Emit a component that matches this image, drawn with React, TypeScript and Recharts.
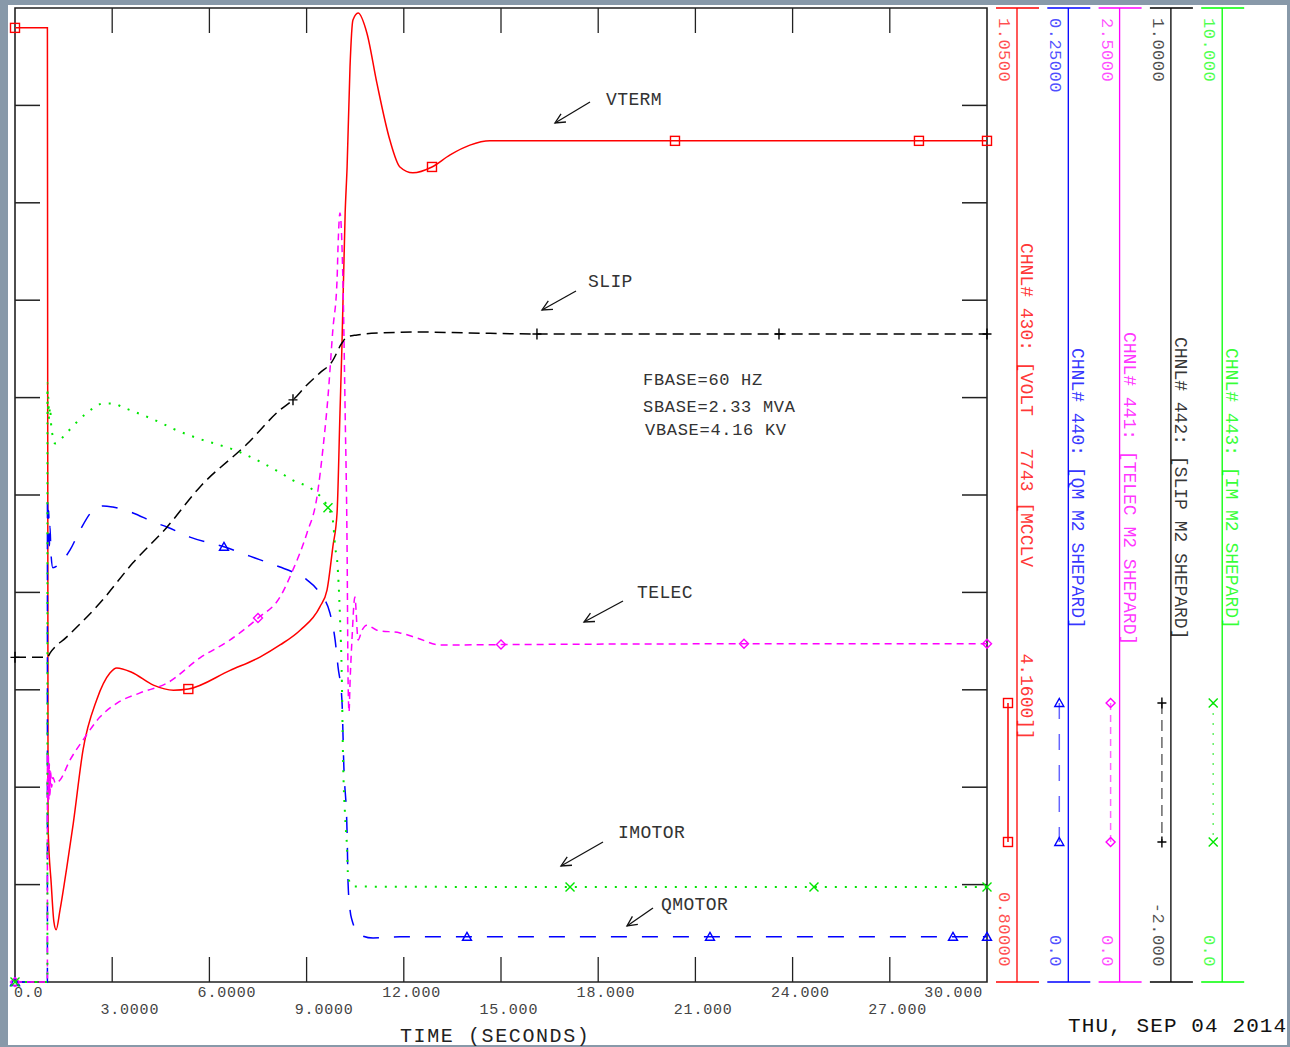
import React from "react";
import { LineChart, Line, XAxis, YAxis, ReferenceLine, ReferenceArea } from "recharts";

// time axis
const TIME_TICKS = [0, 3, 6, 9, 12, 15, 18, 21, 24, 27, 30];
const TIME_LABELS = ["0.0", "3.0000", "6.0000", "9.0000", "12.000", "15.000", "18.000", "21.000", "24.000", "27.000", "30.000"];

// right-hand channel scales
const CHANNEL_TOP = ["1.0500", "0.25000", "2.5000", "1.0000", "10.000"];
const CHANNEL_BOTTOM = ["0.80000", "0.0", "0.0", "-2.000", "0.0"];
const CHANNEL_TITLE = [
  "CHNL# 430: [VOLT   7743 [MCCLV        4.1600]]",
  "CHNL# 440: [QM M2 SHEPARD]",
  "CHNL# 441: [TELEC M2 SHEPARD]",
  "CHNL# 442: [SLIP M2 SHEPARD]",
  "CHNL# 443: [IM M2 SHEPARD]",
];

// CHNL 430 - VTERM (pu)
const VTERM_T = [0, 1.0, 1.02, 1.12, 1.2, 1.27, 1.39, 1.6, 1.8, 2.1, 2.52, 2.93, 3.14, 3.6, 4.27, 4.89, 5.35, 6.64, 7.56, 8.18, 8.8, 9.41, 9.63, 9.81, 9.94, 10.03, 10.09, 10.19, 10.25, 10.34, 10.43, 10.59, 10.86, 11.17, 11.57, 11.88, 12.28, 12.87, 13.43, 14.04, 14.66, 20.37, 27.9, 30];
const VTERM_V = [1.0449, 1.0449, 0.84, 0.825, 0.8155, 0.8134, 0.8185, 0.8295, 0.8408, 0.8596, 0.8724, 0.8793, 0.8806, 0.8795, 0.8762, 0.8749, 0.8752, 0.880, 0.8834, 0.8865, 0.8903, 0.8963, 0.9006, 0.9117, 0.9204, 0.946, 0.963, 0.9974, 1.0092, 1.0349, 1.0469, 1.0487, 1.0436, 1.0307, 1.0161, 1.0092, 1.0077, 1.0092, 1.0123, 1.0148, 1.0159, 1.0159, 1.0159, 1.0159];
const VTERM_MARKS = [0, 5.35, 12.87, 20.37, 27.9, 30];

// CHNL 440 - QMOTOR
const QM_T = [0, 1.0, 1.001, 1.02, 1.04, 1.06, 1.08, 1.11, 1.17, 1.39, 1.7, 2.01, 2.41, 2.72, 3.02, 3.64, 4.26, 4.69, 5.4, 6.45, 7.25, 8.18, 8.58, 9.01, 9.41, 9.72, 9.88, 9.97, 10.09, 10.15, 10.25, 10.28, 10.34, 10.4, 10.65, 11.05, 11.88, 13.95, 21.45, 28.95, 30];
const QM_V = [0, 0, 0.125, 0.113, 0.121, 0.112, 0.117, 0.110, 0.1063, 0.1075, 0.1109, 0.116, 0.1211, 0.1222, 0.1219, 0.1204, 0.1181, 0.1168, 0.1142, 0.1117, 0.1093, 0.1065, 0.1052, 0.1032, 0.0998, 0.0947, 0.0878, 0.0809, 0.0724, 0.0552, 0.0382, 0.0254, 0.0185, 0.0159, 0.0121, 0.0113, 0.0116, 0.0116, 0.0116, 0.0116, 0.0116];
const QM_MARKS = [0, 6.45, 13.95, 21.45, 28.95, 30];

// CHNL 441 - TELEC
const TE_T = [0, 1.0, 1.001, 1.015, 1.03, 1.045, 1.06, 1.08, 1.1, 1.13, 1.17, 1.25, 1.39, 1.7, 2.1, 2.62, 3.15, 3.86, 4.69, 5.71, 6.64, 7.5, 8.18, 8.58, 9.01, 9.32, 9.51, 9.66, 9.81, 9.94, 9.97, 10.03, 10.12, 10.19, 10.25, 10.28, 10.31, 10.34, 10.4, 10.49, 10.59, 10.71, 10.86, 11.17, 11.88, 12.41, 13.12, 15, 22.5, 30];
const TE_V = [0, 0, 0.59, 0.46, 0.58, 0.47, 0.56, 0.48, 0.54, 0.5, 0.525, 0.51, 0.5185, 0.57, 0.621, 0.68, 0.716, 0.742, 0.767, 0.832, 0.878, 0.934, 0.988, 1.058, 1.152, 1.245, 1.373, 1.502, 1.674, 1.802, 1.887, 1.974, 1.802, 1.46, 1.109, 0.775, 0.693, 0.767, 0.878, 0.988, 0.878, 0.903, 0.916, 0.903, 0.896, 0.883, 0.865, 0.866, 0.868, 0.868];
const TE_MARKS = [0, 7.5, 15, 22.5, 30];

// CHNL 442 - SLIP
const SLIP_T = [0, 1.0, 1.08, 1.6, 2.62, 3.64, 4.69, 5.71, 7.16, 8.18, 8.58, 9.01, 9.41, 9.78, 10.09, 10.25, 10.56, 11.27, 12.5, 14.04, 16.11, 23.58, 30];
const SLIP_V = [-1.0, -1.0, -0.987, -0.937, -0.833, -0.709, -0.599, -0.475, -0.343, -0.238, -0.207, -0.161, -0.124, -0.09, -0.032, -0.013, -0.007, -0.001, 0.002, -0.001, -0.004, -0.004, -0.004];
const SLIP_MARKS = [0, 8.58, 16.11, 23.58, 30];

// CHNL 443 - IMOTOR
const IM_T = [0, 1.0, 1.001, 1.015, 1.03, 1.05, 1.08, 1.12, 1.17, 1.23, 1.6, 1.91, 2.41, 2.72, 3.02, 3.33, 3.64, 3.95, 4.57, 4.88, 5.49, 6.94, 8.18, 8.58, 9.2, 9.66, 9.81, 9.88, 9.95, 10.03, 10.09, 10.12, 10.19, 10.25, 10.28, 10.34, 10.43, 17.13, 24.66, 30];
const IM_V = [0, 0, 6.15, 5.82, 6.0, 5.78, 5.9, 5.7, 5.6, 5.53, 5.64, 5.75, 5.89, 5.94, 5.94, 5.9, 5.86, 5.82, 5.73, 5.68, 5.6, 5.44, 5.23, 5.15, 5.05, 4.87, 4.74, 4.47, 4.3, 3.75, 3.07, 2.38, 1.69, 1.36, 1.08, 1.02, 0.98, 0.975, 0.975, 0.975];
const IM_MARKS = [0, 9.66, 17.13, 24.66, 30];

const MONO = "'Liberation Mono', 'DejaVu Sans Mono', monospace";

const toRows = (t: number[], v: number[]) => t.map((x, i) => ({ t: x, y: v[i] }));

const SERIES = [
  { id: "v", domain: [0.8, 1.05], data: toRows(VTERM_T, VTERM_V), marks: VTERM_MARKS, color: "#ff0000", dash: undefined as string | undefined, kind: "square" },
  { id: "q", domain: [0, 0.25], data: toRows(QM_T, QM_V), marks: QM_MARKS, color: "#0000ff", dash: "16 15", kind: "triangle" },
  { id: "te", domain: [0, 2.5], data: toRows(TE_T, TE_V), marks: TE_MARKS, color: "#ff00ff", dash: "7 5", kind: "diamond" },
  { id: "s", domain: [-2, 1], data: toRows(SLIP_T, SLIP_V), marks: SLIP_MARKS, color: "#000000", dash: "11 6", kind: "plus" },
  { id: "i", domain: [0, 10], data: toRows(IM_T, IM_V), marks: IM_MARKS, color: "#00e600", dash: "2 8", kind: "x" },
];

function shape(kind: string, x: number, y: number, color: string) {
  const s = 4.5;
  const st = { fill: "none", stroke: color, strokeWidth: 1.4, strokeDasharray: "none" };
  if (kind === "square") return <rect x={x - s} y={y - s} width={2 * s} height={2 * s} {...st} />;
  if (kind === "triangle") return <path d={`M${x} ${y - s}L${x + s} ${y + s - 1}L${x - s} ${y + s - 1}Z`} {...st} />;
  if (kind === "diamond") return <path d={`M${x} ${y - s}L${x + s} ${y}L${x} ${y + s}L${x - s} ${y}Z`} {...st} />;
  if (kind === "plus") return <path d={`M${x - s} ${y}H${x + s}M${x} ${y - s - 1}V${y + s + 1}`} {...st} />;
  return <path d={`M${x - s} ${y - s}L${x + s} ${y + s}M${x + s} ${y - s}L${x - s} ${y + s}`} {...st} />;
}

const makeDot = (marks: number[], kind: string, color: string) => (p: any) => {
  const hit = p.payload && marks.some((m) => Math.abs(m - p.payload.t) < 1e-6);
  if (!hit || p.cx == null || p.cy == null) return <g key={`d${p.index}`} />;
  return <g key={`d${p.index}`}>{shape(kind, p.cx, p.cy, color)}</g>;
};

function TimeTick(props: any) {
  const { x, payload } = props;
  const i = TIME_TICKS.indexOf(payload.value);
  if (i < 0) return null;
  const label = TIME_LABELS[i];
  let tx = x - label.indexOf(".") * 9.8 - 2;
  let anchor: "start" | "end" = "start";
  if (i === 0) tx = x - 1;
  if (i === TIME_TICKS.length - 1) { anchor = "end"; tx = x - 4; }
  return (
    <text x={tx} y={i % 2 === 0 ? 997 : 1014} textAnchor={anchor} fontFamily={MONO} fontSize={15}
      letterSpacing={0.8} fill="#444">{label}</text>
  );
}

function Arrow({ x1, y1, x2, y2 }: { x1: number; y1: number; x2: number; y2: number }) {
  const a = Math.atan2(y2 - y1, x2 - x1);
  const h = 11;
  const p1 = [x2 - h * Math.cos(a - 0.45), y2 - h * Math.sin(a - 0.45)];
  const p2 = [x2 - h * Math.cos(a + 0.45), y2 - h * Math.sin(a + 0.45)];
  return (
    <g stroke="#111" strokeWidth={1.3} fill="none">
      <line x1={x1} y1={y1} x2={x2} y2={y2} />
      <path d={`M${p1[0]} ${p1[1]}L${x2} ${y2}L${p2[0]} ${p2[1]}`} />
    </g>
  );
}

const NOTES = [
  { text: "VTERM", x: 606, y: 105, a: [590, 102, 555, 123] },
  { text: "SLIP", x: 588, y: 287, a: [576, 291, 542, 310] },
  { text: "TELEC", x: 637, y: 598, a: [623, 601, 584, 622] },
  { text: "IMOTOR", x: 618, y: 838, a: [603, 842, 561, 866] },
  { text: "QMOTOR", x: 661, y: 910, a: [653, 908, 627, 926] },
];
const BASES = [
  { text: "FBASE=60 HZ", x: 643, y: 385 },
  { text: "SBASE=2.33 MVA", x: 643, y: 412 },
  { text: "VBASE=4.16 KV", x: 645, y: 435 },
];
const TITLE_START = [243, 348, 332, 337, 348];

function Overlay() {
  return (
    <svg width={1290} height={1047} style={{ position: "absolute", left: 0, top: 0, pointerEvents: "none" }}>
      {NOTES.map((n) => (
        <g key={n.text}>
          <text x={n.x} y={n.y} fontFamily={MONO} fontSize={18} letterSpacing={0.4} fill="#333">{n.text}</text>
          <Arrow x1={n.a[0]} y1={n.a[1]} x2={n.a[2]} y2={n.a[3]} />
        </g>
      ))}
      {BASES.map((b) => (
        <text key={b.text} x={b.x} y={b.y} fontFamily={MONO} fontSize={17} letterSpacing={0.7} fill="#333"
          style={{ whiteSpace: "pre" }}>{b.text}</text>
      ))}

      {SERIES.map((s, i) => {
        const lx = 1017 + i * 51.3;
        const tx = 999 + i * 51.3;
        const gx = 1008 + i * 51.3;
        const col = s.color === "#00e600" ? "#00ff00" : s.color;
        return (
          <g key={s.id}>
            <line x1={lx} y1={8} x2={lx} y2={982} stroke={col} strokeWidth={1.3} />
            <line x1={lx - 21} y1={8} x2={lx + 22} y2={8} stroke={col} strokeWidth={1.5} />
            <line x1={lx - 21} y1={982} x2={lx + 22} y2={982} stroke={col} strokeWidth={1.5} />
            <text transform={`translate(${tx},18) rotate(90)`} fontFamily={MONO} fontSize={17} letterSpacing={0.5}
              fill={col} fillOpacity={0.7}>{CHANNEL_TOP[i]}</text>
            <text transform={`translate(${tx},967) rotate(90)`} textAnchor="end" fontFamily={MONO} fontSize={17}
              letterSpacing={0.5} fill={col} fillOpacity={0.7}>{CHANNEL_BOTTOM[i]}</text>
            <text transform={`translate(${lx + 4},${TITLE_START[i]}) rotate(90)`} fontFamily={MONO} fontSize={18}
              fill={col} fillOpacity={0.8} style={{ whiteSpace: "pre" }}>{CHANNEL_TITLE[i]}</text>
            <line x1={gx} y1={703} x2={gx} y2={842} stroke={s.color} strokeWidth={1.5}
              strokeDasharray={s.dash} strokeOpacity={i === 0 ? 1 : 0.6} />
            {shape(s.kind, gx, 703, s.color)}
            {shape(s.kind, gx, 842, s.color)}
          </g>
        );
      })}

      <text x={400} y={1042} fontFamily={MONO} fontSize={20} letterSpacing={1.6} fill="#222">TIME (SECONDS)</text>
      <text x={1068} y={1032} fontFamily={MONO} fontSize={21} letterSpacing={1.1} fill="#111">THU, SEP 04 2014</text>
    </svg>
  );
}

export default function App() {
  const tickT = 25 / (972 / 30);
  const tickV = (25 / 974) * 0.25;
  const levels = [1, 2, 3, 4, 5, 6, 7, 8, 9].map((k) => 0.8 + 0.025 * k);
  const inner = TIME_TICKS.slice(1, -1);
  return (
    <div style={{ position: "fixed", left: 0, top: 0, width: 1290, height: 1047, background: "#8899a9", overflow: "hidden" }}>
      <div style={{ position: "absolute", left: 8, top: 5, width: 1279, height: 1040, background: "#fff" }} />
      <div style={{ position: "absolute", left: 0, top: 0 }}>
        <LineChart width={1290} height={1047} margin={{ left: 15, right: 303, top: 8, bottom: 25 }}>
          <XAxis dataKey="t" type="number" domain={[0, 30]} ticks={TIME_TICKS} interval={0}
            axisLine={false} tickLine={false} height={40} tick={<TimeTick />} />
          {SERIES.map((s) => (
            <YAxis key={s.id} yAxisId={s.id} type="number" domain={s.domain as [number, number]} hide />
          ))}
          <ReferenceArea yAxisId="v" x1={0} x2={30} y1={0.8} y2={1.05} fill="none" stroke="#222" strokeWidth={1.6} />
          {levels.map((v) => (
            <ReferenceLine key={`l${v}`} yAxisId="v" segment={[{ x: 0, y: v }, { x: tickT, y: v }]} stroke="#222" strokeWidth={1.5} />
          ))}
          {levels.map((v) => (
            <ReferenceLine key={`r${v}`} yAxisId="v" segment={[{ x: 30 - tickT, y: v }, { x: 30, y: v }]} stroke="#222" strokeWidth={1.5} />
          ))}
          {inner.map((t) => (
            <ReferenceLine key={`t${t}`} yAxisId="v" segment={[{ x: t, y: 1.05 }, { x: t, y: 1.05 - tickV }]} stroke="#222" strokeWidth={1.3} />
          ))}
          {inner.map((t) => (
            <ReferenceLine key={`b${t}`} yAxisId="v" segment={[{ x: t, y: 0.8 }, { x: t, y: 0.8 + tickV }]} stroke="#222" strokeWidth={1.3} />
          ))}
          {SERIES.map((s) => (
            <Line key={s.id} yAxisId={s.id} data={s.data} dataKey="y" type="monotone" stroke={s.color}
              strokeWidth={s.id === "i" ? 2 : 1.5} strokeDasharray={s.dash} dot={makeDot(s.marks, s.kind, s.color)}
              activeDot={false} isAnimationActive={false} />
          ))}
        </LineChart>
      </div>
      <Overlay />
    </div>
  );
}
